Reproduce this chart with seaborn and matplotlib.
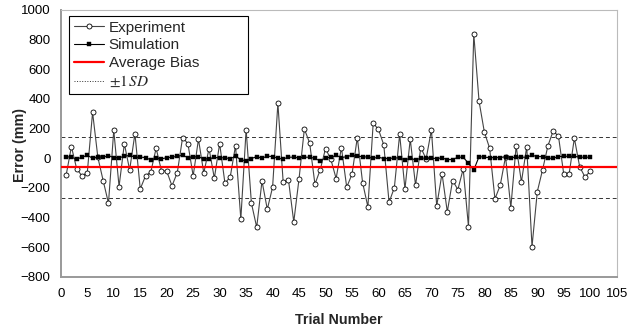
import numpy as np
import pandas as pd
import matplotlib
matplotlib.use("Agg")
import matplotlib.pyplot as plt
import seaborn as sns

trials = list(range(1, 101))
experiment = [-115, 78, -72, -119, -97, 309, 5, -151, -303, 188,
              -191, 98, -79, 166, -207, -119, -92, 67, -83, -87,
              -186, -97, 139, 99, -119, 128, -99, 65, -135, 99,
              -168, -126, 85, -411, 193, -303, -465, -153, -344, -195,
              370, -162, -146, -429, -137, 197, 103, -175, -77, 65,
              -7, -137, 72, -195, -108, 139, -164, -328, 236, 194,
              90, -297, -198, 161, -207, 128, -182, 72, -5, 191,
              -321, -103, -361, -150, -211, -72, -461, 837, 383, 176,
              67, -274, -182, 11, -332, 81, -160, 78, -595, -225,
              -77, 83, 184, 148, -108, -108, 135, -57, -126, -88]
simulation = [11, 6, -5, 6, 20, 0, 8, 6, 18, 4, 4, 12, 20, 6, 8, 4, -11, 0, -5, 4,
              7, 13, 20, 4, 11, 8, -2, -5, 6, 2, 4, -4, 15, -11, -17, -2, 11, 0, 14, 11,
              0, -5, 7, 7, 2, 7, 7, 0, -20, 4, 5, 20, 4, 11, 20, 13, 11, 7, 0, 7,
              -2, -2, 2, 2, -11, 0, -11, 0, 2, 0, -2, 2, -9, -9, 7, 7, -34, -79, 11, 7,
              4, 4, 4, 11, 4, 7, 7, 7, 20, 11, 11, 0, 0, 11, 13, 13, 13, 7, 7, 7]
avg_bias = -60
sd_upper = 145
sd_lower = -268
x_ticks = list(range(0, 106, 5))
y_ticks = list(range(-800, 1001, 200))

df = pd.DataFrame({"trial": trials, "experiment": experiment, "simulation": simulation})

sns.set_style("white")
plt.rcParams["font.family"] = ["Liberation Sans", "DejaVu Sans"]
plt.rcParams["mathtext.fontset"] = "stix"

fig = plt.figure(figsize=(6.27, 3.32), dpi=100)
ax = fig.add_axes([0.097, 0.1657, 0.8866, 0.8048])

sns.lineplot(data=df, x="trial", y="experiment", ax=ax, color="#444444", lw=0.8,
             marker="o", markersize=3.6, markerfacecolor="white", markeredgecolor="black",
             markeredgewidth=0.6, label="Experiment", zorder=3)
sns.lineplot(data=df, x="trial", y="simulation", ax=ax, color="black", lw=0.8,
             marker="s", markersize=2.7, markerfacecolor="black", markeredgecolor="black",
             markeredgewidth=0.3, label="Simulation", zorder=4)
ax.axhline(avg_bias, color="#ff0000", lw=1.6, label="Average Bias", zorder=5)
ax.axhline(sd_upper, color="#333333", lw=0.7, ls=(0, (4, 3)), label=r"$\pm1\,\mathit{SD}$", zorder=2)
ax.axhline(sd_lower, color="#333333", lw=0.7, ls=(0, (4, 3)), zorder=2)

ax.set_xlim(0, 105)
ax.set_ylim(-800, 1000)
ax.set_xticks(x_ticks)
ax.set_yticks(y_ticks)
ax.tick_params(axis="both", direction="out", width=0.8, color="#888888",
               labelsize=9.5, labelcolor="black")
ax.tick_params(axis="x", length=2.5, pad=5.5)
ax.tick_params(axis="y", length=3.5, pad=4)
for s in ["left", "bottom"]:
    ax.spines[s].set_color("#999999")
    ax.spines[s].set_linewidth(1.4)
for s in ["top", "right"]:
    ax.spines[s].set_color("#bbbbbb")
    ax.spines[s].set_linewidth(0.8)
ax.set_xlabel("Trial Number", fontsize=10.3, fontweight="bold", va="center")
ax.set_ylabel("Error (mm)", fontsize=10.3, fontweight="bold", va="center")
ax.xaxis.set_label_coords(0.5, -0.161)
ax.yaxis.set_label_coords(-0.073, 0.494)

leg = ax.legend(loc="upper left", bbox_to_anchor=(0.0148, 0.3, 0.3225, 0.6768),
                mode="expand", fontsize=11, frameon=True, fancybox=False,
                edgecolor="black", framealpha=1, borderaxespad=0,
                labelspacing=0.25, handlelength=2.0, handletextpad=0.3,
                borderpad=0.3)
leg.get_frame().set_linewidth(0.8)
leg.get_lines()[3].set_linestyle(":")

fig.savefig("out.png", dpi=100)
